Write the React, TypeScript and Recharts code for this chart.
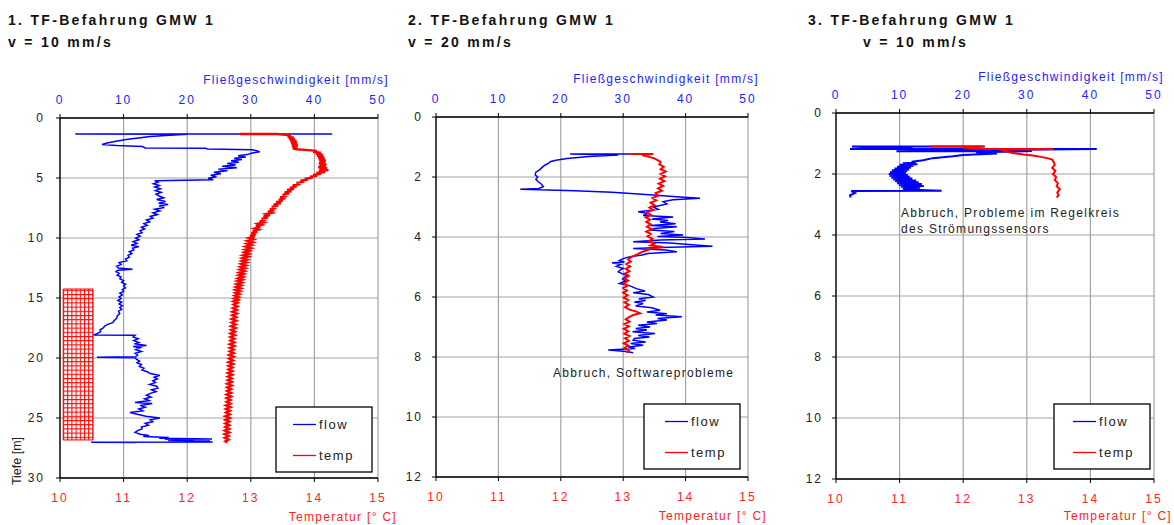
import React from "react";
import {
  ScatterChart,
  Scatter,
  XAxis,
  YAxis,
  CartesianGrid,
  ReferenceArea,
} from "recharts";

const FONT = '"Liberation Sans", Arial, sans-serif';
const BLUE = "#0000ff";
const RED = "#ff0000";

const flowTicks = [0, 10, 20, 30, 40, 50];
const tempTicks = [10, 11, 12, 13, 14, 15];
const depthTicksLong = [0, 5, 10, 15, 20, 25, 30];
const depthTicksShort = [0, 2, 4, 6, 8, 10, 12];

const titles = ["1. TF-Befahrung GMW 1", "2. TF-Befahrung GMW 1", "3. TF-Befahrung GMW 1"];
const speeds = ["v = 10 mm/s", "v = 20 mm/s", "v = 10 mm/s"];

// [depth m, flow mm/s]
const run1Flow = [
  [1.33, 42.8], [1.33, 2.4], [1.36, 20.0], [1.45, 16.6], [1.55, 14.2], [1.68, 12.0],
  [1.8, 10.4], [1.95, 8.6], [2.08, 7.4], [2.2, 6.6], [2.3, 8.9], [2.38, 13.0],
  [2.5, 13.4], [2.52, 22.9], [2.58, 23.2], [2.64, 30.3], [2.82, 31.4], [2.92, 30.2],
  [3.05, 29.4], [3.15, 28.0], [3.25, 29.2], [3.35, 27.4], [3.45, 28.6], [3.57, 26.9],
  [3.68, 28.1], [3.8, 26.3], [3.92, 27.6], [4.03, 25.5], [4.15, 27.8], [4.27, 24.9],
  [4.4, 26.3], [4.52, 24.2], [4.65, 25.3], [4.78, 23.7], [4.9, 24.6], [5.03, 23.3],
  [5.15, 24.1], [5.22, 14.9], [5.35, 15.4], [5.48, 14.7], [5.62, 15.6], [5.75, 14.9],
  [5.9, 15.8], [6.05, 15.0], [6.2, 15.9], [6.35, 15.1], [6.5, 15.6], [6.65, 16.3],
  [6.8, 15.2], [6.95, 16.6], [7.1, 15.5], [7.2, 17.0], [7.32, 15.6], [7.45, 16.4],
  [7.6, 14.9], [7.75, 15.7], [7.9, 14.6], [8.05, 15.3], [8.2, 14.2], [8.35, 14.6],
  [8.5, 13.6], [8.65, 14.1], [8.8, 13.2], [8.95, 13.7], [9.1, 12.8], [9.25, 13.3],
  [9.4, 12.6], [9.55, 12.9], [9.7, 12.1], [9.85, 12.6], [10.0, 11.9], [10.15, 12.4],
  [10.3, 11.5], [10.45, 12.1], [10.6, 11.2], [10.72, 12.4], [10.85, 11.4], [11.0, 11.6],
  [11.15, 10.9], [11.3, 11.3], [11.45, 10.7], [11.6, 10.9], [11.75, 10.3], [11.9, 10.5],
  [12.05, 9.3], [12.2, 9.6], [12.35, 8.9], [12.5, 9.2], [12.6, 11.4], [12.68, 9.1],
  [12.8, 8.8], [12.95, 9.3], [13.1, 9.0], [13.25, 9.6], [13.4, 9.4], [13.55, 10.0],
  [13.7, 9.7], [13.85, 10.3], [14.0, 10.0], [14.15, 10.3], [14.3, 9.8], [14.45, 10.0],
  [14.6, 9.4], [14.75, 9.8], [14.9, 9.3], [15.05, 9.6], [15.2, 9.1], [15.35, 9.7],
  [15.5, 9.3], [15.65, 9.8], [15.8, 9.4], [15.95, 9.7], [16.1, 9.2], [16.3, 9.4],
  [16.5, 9.0], [16.7, 8.9], [16.9, 8.5], [17.05, 8.3], [17.2, 7.5], [17.35, 7.0],
  [17.5, 6.8], [17.65, 6.3], [17.8, 6.4], [17.95, 5.9], [18.08, 5.3], [18.1, 11.8],
  [18.25, 11.5], [18.4, 12.3], [18.55, 11.6], [18.7, 12.4], [18.82, 11.7], [18.95, 13.6],
  [19.05, 11.5], [19.15, 12.6], [19.3, 11.9], [19.45, 12.8], [19.6, 11.8], [19.75, 12.2],
  [19.9, 11.9], [19.93, 5.8], [19.97, 11.8], [20.1, 12.0], [20.25, 12.5], [20.4, 12.1],
  [20.55, 12.8], [20.7, 12.5], [20.85, 13.2], [21.0, 12.9], [21.15, 13.7], [21.3, 14.2],
  [21.45, 15.7], [21.6, 14.8], [21.75, 15.3], [21.9, 14.6], [22.05, 15.0], [22.2, 14.1],
  [22.35, 15.2], [22.5, 15.4], [22.65, 14.4], [22.8, 15.1], [22.95, 14.2], [23.1, 13.6],
  [23.25, 14.3], [23.4, 13.3], [23.55, 14.0], [23.7, 11.8], [23.8, 14.5], [23.95, 12.6],
  [24.1, 13.4], [24.25, 12.4], [24.4, 13.0], [24.55, 11.0], [24.7, 12.3], [24.85, 13.5],
  [25.0, 15.7], [25.15, 14.2], [25.3, 14.6], [25.45, 13.4], [25.6, 13.9], [25.75, 12.8],
  [25.9, 12.9], [26.05, 12.2], [26.2, 11.8], [26.35, 12.6], [26.45, 14.0], [26.55, 13.1],
  [26.62, 17.1], [26.68, 15.6], [26.74, 23.9], [26.78, 16.5], [26.83, 21.0], [26.88, 17.0],
  [26.92, 23.6], [26.96, 18.5], [27.0, 24.0], [27.02, 4.9], [27.04, 12.0],
];

// [depth m, temperature °C]
const run1Temp = [
  [1.33, 12.83], [1.33, 13.41], [1.4, 13.55], [1.48, 13.63], [1.56, 13.58], [1.64, 13.68],
  [1.72, 13.6], [1.8, 13.7], [1.88, 13.62], [1.96, 13.72], [2.04, 13.63], [2.12, 13.73],
  [2.2, 13.64], [2.28, 13.74], [2.36, 13.65], [2.44, 13.73], [2.52, 13.66], [2.6, 13.72],
  [2.68, 13.9], [2.74, 14.04], [2.82, 13.98], [2.9, 14.1], [2.98, 14.02], [3.06, 14.13],
  [3.14, 14.04], [3.22, 14.15], [3.3, 14.06], [3.38, 14.16], [3.46, 14.07], [3.54, 14.18],
  [3.62, 14.08], [3.7, 14.17], [3.78, 14.07], [3.86, 14.19], [3.94, 14.08], [4.02, 14.18],
  [4.1, 14.06], [4.18, 14.2], [4.26, 14.08], [4.34, 14.22], [4.42, 14.07], [4.5, 14.17],
  [4.58, 14.03], [4.66, 14.1], [4.74, 13.98], [4.82, 14.04], [4.9, 13.93], [4.98, 13.97],
  [5.06, 13.85], [5.14, 13.9], [5.22, 13.78], [5.3, 13.84], [5.4, 13.72], [5.5, 13.78],
  [5.6, 13.66], [5.7, 13.72], [5.8, 13.62], [5.9, 13.68], [6.0, 13.57], [6.1, 13.64],
  [6.2, 13.53], [6.3, 13.6], [6.4, 13.5], [6.5, 13.57], [6.6, 13.46], [6.7, 13.54],
  [6.8, 13.44], [6.9, 13.5], [7.0, 13.4], [7.1, 13.47], [7.2, 13.36], [7.3, 13.43],
  [7.4, 13.33], [7.5, 13.4], [7.6, 13.3], [7.7, 13.37], [7.8, 13.27], [7.9, 13.33],
  [8.0, 13.24], [8.1, 13.3], [8.2, 13.2], [8.3, 13.27], [8.4, 13.17], [8.5, 13.24],
  [8.6, 13.14], [8.7, 13.2], [8.8, 13.11], [8.9, 13.17], [9.0, 13.08], [9.1, 13.15],
  [9.2, 13.06], [9.3, 13.12], [9.4, 13.03], [9.5, 13.1], [9.6, 13.01], [9.7, 13.08],
  [9.8, 12.99], [9.9, 13.06], [10.0, 12.97], [10.12, 13.04], [10.24, 12.95], [10.36, 13.03],
  [10.48, 12.94], [10.6, 13.01], [10.72, 12.92], [10.84, 13.0], [10.96, 12.91], [11.08, 12.98],
  [11.2, 12.9], [11.32, 12.97], [11.44, 12.88], [11.56, 12.96], [11.68, 12.87], [11.8, 12.94],
  [11.92, 12.86], [12.04, 12.93], [12.16, 12.85], [12.28, 12.92], [12.4, 12.84], [12.52, 12.91],
  [12.64, 12.83], [12.76, 12.9], [12.88, 12.82], [13.0, 12.89], [13.12, 12.81], [13.24, 12.88],
  [13.36, 12.8], [13.48, 12.87], [13.6, 12.79], [13.72, 12.86], [13.84, 12.78], [13.96, 12.85],
  [14.08, 12.77], [14.2, 12.84], [14.32, 12.76], [14.44, 12.83], [14.56, 12.76], [14.68, 12.82],
  [14.8, 12.75], [14.92, 12.81], [15.04, 12.74], [15.16, 12.8], [15.28, 12.73], [15.4, 12.79],
  [15.55, 12.73], [15.7, 12.79], [15.85, 12.72], [16.0, 12.78], [16.15, 12.71], [16.3, 12.78],
  [16.45, 12.71], [16.6, 12.77], [16.75, 12.7], [16.9, 12.77], [17.05, 12.7], [17.2, 12.76],
  [17.35, 12.69], [17.5, 12.76], [17.65, 12.69], [17.8, 12.75], [17.95, 12.68], [18.1, 12.75],
  [18.25, 12.68], [18.4, 12.74], [18.55, 12.68], [18.7, 12.74], [18.85, 12.67], [19.0, 12.74],
  [19.15, 12.67], [19.3, 12.73], [19.45, 12.67], [19.6, 12.73], [19.75, 12.66], [19.9, 12.73],
  [20.05, 12.66], [20.2, 12.72], [20.35, 12.65], [20.5, 12.72], [20.65, 12.65], [20.8, 12.71],
  [20.95, 12.65], [21.1, 12.71], [21.25, 12.64], [21.4, 12.71], [21.55, 12.64], [21.7, 12.7],
  [21.85, 12.64], [22.0, 12.7], [22.15, 12.63], [22.3, 12.7], [22.45, 12.63], [22.6, 12.69],
  [22.75, 12.63], [22.9, 12.69], [23.05, 12.62], [23.2, 12.69], [23.35, 12.62], [23.5, 12.68],
  [23.65, 12.62], [23.8, 12.68], [23.95, 12.61], [24.1, 12.68], [24.25, 12.61], [24.4, 12.67],
  [24.55, 12.61], [24.7, 12.67], [24.85, 12.6], [25.0, 12.67], [25.15, 12.6], [25.3, 12.66],
  [25.45, 12.6], [25.6, 12.66], [25.75, 12.6], [25.9, 12.66], [26.05, 12.59], [26.2, 12.66],
  [26.35, 12.59], [26.5, 12.65], [26.65, 12.59], [26.8, 12.65], [26.95, 12.6], [27.05, 12.63],
];

const run2Flow = [
  [1.23, 31.1], [1.23, 21.5], [1.25, 26.0], [1.27, 29.2], [1.32, 24.5], [1.38, 21.0],
  [1.44, 19.2], [1.49, 18.3], [1.55, 18.0], [1.6, 17.5], [1.68, 17.0], [1.76, 16.6],
  [1.84, 16.0], [1.93, 15.9], [2.0, 16.3], [2.08, 16.0], [2.16, 16.4], [2.24, 16.9],
  [2.32, 17.2], [2.38, 16.5], [2.41, 13.5], [2.46, 22.3], [2.51, 28.2], [2.6, 34.8],
  [2.66, 38.5], [2.71, 42.3], [2.76, 38.0], [2.82, 36.4], [2.9, 37.0], [3.0, 34.8],
  [3.08, 35.6], [3.16, 32.4], [3.22, 34.0], [3.28, 33.2], [3.33, 38.0], [3.4, 34.6],
  [3.45, 37.2], [3.5, 35.9], [3.56, 38.4], [3.62, 34.4], [3.66, 38.6], [3.72, 35.0],
  [3.77, 34.3], [3.82, 38.2], [3.88, 36.0], [3.93, 39.6], [3.98, 35.5], [4.02, 40.2],
  [4.07, 43.1], [4.1, 36.0], [4.16, 31.6], [4.2, 37.5], [4.25, 40.5], [4.31, 44.3],
  [4.35, 36.0], [4.38, 31.6], [4.43, 36.8], [4.49, 38.6], [4.55, 34.0], [4.6, 33.0],
  [4.66, 31.1], [4.72, 30.0], [4.78, 29.4], [4.83, 30.2], [4.86, 28.2], [4.92, 29.6],
  [4.98, 28.9], [5.05, 30.0], [5.1, 29.5], [5.16, 29.2], [5.22, 29.8], [5.28, 30.5],
  [5.33, 30.3], [5.4, 29.9], [5.46, 30.4], [5.55, 29.4], [5.62, 31.0], [5.72, 32.1],
  [5.8, 33.5], [5.86, 31.6], [5.92, 34.0], [6.0, 34.8], [6.06, 32.5], [6.12, 33.6],
  [6.17, 31.8], [6.22, 33.2], [6.3, 32.0], [6.36, 34.6], [6.44, 35.9], [6.5, 33.8],
  [6.56, 37.0], [6.6, 35.2], [6.66, 39.4], [6.72, 35.5], [6.77, 37.0], [6.83, 33.8],
  [6.88, 35.4], [6.94, 32.4], [7.0, 34.3], [7.05, 32.0], [7.1, 33.8], [7.16, 31.5],
  [7.22, 35.1], [7.28, 32.4], [7.33, 34.2], [7.38, 31.8], [7.44, 31.6], [7.5, 33.6],
  [7.55, 31.2], [7.61, 33.2], [7.67, 30.8], [7.72, 31.9], [7.77, 27.6], [7.82, 30.5],
  [7.86, 31.6],
];

const run2Temp = [
  [1.23, 13.11], [1.23, 13.48], [1.27, 13.3], [1.32, 13.4], [1.38, 13.5], [1.44, 13.55],
  [1.5, 13.6], [1.58, 13.58], [1.66, 13.65], [1.74, 13.6], [1.82, 13.68], [1.9, 13.6],
  [1.98, 13.67], [2.06, 13.59], [2.14, 13.66], [2.22, 13.57], [2.3, 13.64], [2.38, 13.56],
  [2.46, 13.62], [2.54, 13.52], [2.62, 13.56], [2.7, 13.47], [2.78, 13.53], [2.86, 13.44],
  [2.94, 13.5], [3.02, 13.42], [3.1, 13.48], [3.18, 13.38], [3.26, 13.44], [3.34, 13.36],
  [3.42, 13.43], [3.5, 13.37], [3.58, 13.44], [3.66, 13.38], [3.74, 13.46], [3.82, 13.37],
  [3.9, 13.44], [3.98, 13.39], [4.06, 13.47], [4.14, 13.41], [4.22, 13.5], [4.28, 13.44],
  [4.33, 13.64], [4.38, 13.46], [4.44, 13.38], [4.5, 13.3], [4.56, 13.24], [4.62, 13.18],
  [4.68, 13.12], [4.75, 13.08], [4.82, 13.12], [4.9, 13.05], [4.98, 13.11], [5.06, 13.04],
  [5.14, 13.1], [5.22, 13.03], [5.3, 13.09], [5.38, 13.02], [5.46, 13.08], [5.54, 13.01],
  [5.62, 13.07], [5.7, 13.0], [5.78, 13.06], [5.86, 13.0], [5.94, 13.07], [6.02, 13.01],
  [6.1, 13.08], [6.18, 13.02], [6.26, 13.09], [6.34, 13.03], [6.42, 13.1], [6.48, 13.2],
  [6.54, 13.27], [6.6, 13.16], [6.66, 13.1], [6.74, 13.04], [6.82, 13.1], [6.9, 13.02],
  [6.98, 13.09], [7.06, 13.01], [7.14, 13.08], [7.22, 13.02], [7.3, 13.1], [7.38, 13.03],
  [7.46, 13.09], [7.54, 13.01], [7.62, 13.08], [7.7, 13.02], [7.78, 13.09], [7.86, 13.05],
];

const run3Flow = [
  [1.1, 23.4], [1.1, 2.5], [1.14, 12.0], [1.18, 2.2], [1.18, 41.0], [1.22, 20.0],
  [1.25, 9.5], [1.25, 30.8], [1.29, 22.0], [1.33, 25.3], [1.38, 20.0], [1.42, 18.4],
  [1.48, 15.2], [1.55, 13.7], [1.6, 11.9], [1.63, 12.5], [1.65, 10.5], [1.68, 12.8],
  [1.7, 10.0], [1.73, 12.2], [1.76, 9.6], [1.79, 11.8], [1.82, 9.2], [1.85, 11.5],
  [1.88, 8.8], [1.91, 11.2], [1.94, 8.5], [1.97, 11.0], [2.0, 8.3], [2.03, 11.3],
  [2.06, 8.4], [2.09, 11.6], [2.12, 8.7], [2.15, 12.0], [2.18, 9.0], [2.21, 12.6],
  [2.24, 9.3], [2.27, 13.0], [2.3, 9.6], [2.33, 13.5], [2.36, 9.9], [2.39, 13.8],
  [2.42, 10.2], [2.45, 13.2], [2.48, 10.5], [2.52, 12.0], [2.55, 16.6], [2.56, 2.4],
  [2.62, 3.0], [2.7, 2.2], [2.77, 2.3],
];

const run3Temp = [
  [1.1, 11.48], [1.1, 12.31], [1.15, 12.0], [1.18, 12.2], [1.18, 13.41], [1.2, 12.58],
  [1.25, 12.65], [1.31, 12.78], [1.36, 12.95], [1.4, 13.12], [1.43, 13.2], [1.48, 13.32],
  [1.53, 13.4], [1.6, 13.42], [1.7, 13.44], [1.8, 13.4], [1.9, 13.45], [2.0, 13.41],
  [2.1, 13.46], [2.2, 13.44], [2.3, 13.49], [2.4, 13.47], [2.5, 13.52], [2.6, 13.48],
  [2.7, 13.5], [2.77, 13.47],
];

// hatched block in run 1: temperature range and depth range
const run1Hatch = { t1: 10.05, t2: 10.52, d1: 14.25, d2: 26.83 };

const toPoints = (arr: number[][]) => arr.map(([d, v]) => ({ d, v }));
const NoDot = () => <g />;

const tickStyle = { fontSize: 12, fontFamily: FONT, letterSpacing: 2 };

function Panel({ left, width, margin, yWidth, yTickMargin, maxDepth, depthTicks, flow, temp, hatch, flowWidth, tempWidth }: any) {
  return (
    <div style={{ position: "absolute", left, top: 0 }}>
      <ScatterChart width={width} height={525} margin={margin}>
        <CartesianGrid xAxisId="flow" yAxisId="depth" stroke="#a3a3a3" strokeWidth={1.2} />
        <XAxis
          xAxisId="flow"
          orientation="top"
          type="number"
          dataKey="v"
          domain={[0, 50]}
          ticks={flowTicks}
          interval={0}
          allowDataOverflow
          height={30}
          tickSize={4}
          tickMargin={10}
          axisLine={{ stroke: "#000", strokeWidth: 1.3 }}
          tickLine={{ stroke: "#000" }}
          tick={{ ...tickStyle, fill: "#2222ff" }}
        />
        <XAxis
          xAxisId="temp"
          orientation="bottom"
          type="number"
          dataKey="v"
          domain={[10, 15]}
          ticks={tempTicks}
          interval={0}
          allowDataOverflow
          height={30}
          tickSize={4}
          tickMargin={11}
          axisLine={{ stroke: "#000", strokeWidth: 1.3 }}
          tickLine={{ stroke: "#000" }}
          tick={{ ...tickStyle, fill: "#ff2222" }}
        />
        <YAxis
          yAxisId="depth"
          type="number"
          dataKey="d"
          domain={[0, maxDepth]}
          reversed
          ticks={depthTicks}
          interval={0}
          allowDataOverflow
          width={yWidth}
          tickSize={4}
          tickMargin={yTickMargin}
          axisLine={{ stroke: "#000", strokeWidth: 1.3 }}
          tickLine={{ stroke: "#000" }}
          tick={{ ...tickStyle, fill: "#222" }}
        />
        {hatch && (
          <ReferenceArea
            xAxisId="temp"
            yAxisId="depth"
            x1={hatch.t1}
            x2={hatch.t2}
            y1={hatch.d1}
            y2={hatch.d2}
            fill="url(#redHatch)"
            fillOpacity={1}
            stroke={RED}
            strokeWidth={1}
            ifOverflow="visible"
          />
        )}
        <Scatter
          xAxisId="flow"
          yAxisId="depth"
          data={toPoints(flow)}
          line={{ stroke: BLUE, strokeWidth: flowWidth }}
          shape={NoDot}
          isAnimationActive={false}
        />
        <Scatter
          xAxisId="temp"
          yAxisId="depth"
          data={toPoints(temp)}
          line={{ stroke: RED, strokeWidth: tempWidth }}
          shape={NoDot}
          isAnimationActive={false}
        />
      </ScatterChart>
    </div>
  );
}

function LegendBox({ x, y, lx }: { x: number; y: number; lx: number }) {
  return (
    <g>
      <rect x={x} y={y} width={96} height={65} fill="#fff" stroke="#000" strokeWidth={1.3} />
      <line x1={lx} x2={lx + 23} y1={y + 17.5} y2={y + 17.5} stroke={BLUE} strokeWidth={1.3} />
      <text x={lx + 26} y={y + 22} fontSize={13} letterSpacing={1.5} fill="#222">flow</text>
      <line x1={lx} x2={lx + 23} y1={y + 48.5} y2={y + 48.5} stroke={RED} strokeWidth={1.3} />
      <text x={lx + 26} y={y + 53} fontSize={13} letterSpacing={1.5} fill="#222">temp</text>
    </g>
  );
}

export default function App() {
  const titleX = [8, 408, 808];
  const speedX = [8, 408, 863];
  const topTitle = [{ x: 389, y: 84 }, { x: 759, y: 83 }, { x: 1164, y: 81 }];
  const bottomTitle = [{ x: 397, y: 521 }, { x: 767, y: 520 }, { x: 1172, y: 520 }];
  return (
    <div style={{ position: "absolute", left: 0, top: 0, width: 1174, height: 525, background: "#fff", fontFamily: FONT }}>
      <Panel
        left={0}
        width={400}
        margin={{ top: 88, right: 22, bottom: 17, left: 20 }}
        yWidth={40}
        yTickMargin={11}
        maxDepth={30}
        depthTicks={depthTicksLong}
        flow={run1Flow}
        temp={run1Temp}
        hatch={run1Hatch}
        flowWidth={1.5}
        tempWidth={2.4}
      />
      <Panel
        left={400}
        width={370}
        margin={{ top: 87, right: 22, bottom: 18, left: 6 }}
        yWidth={30}
        yTickMargin={9}
        maxDepth={12}
        depthTicks={depthTicksShort}
        flow={run2Flow}
        temp={run2Temp}
        flowWidth={1.5}
        tempWidth={2}
      />
      <Panel
        left={790}
        width={384}
        margin={{ top: 83, right: 20, bottom: 16, left: 16 }}
        yWidth={30}
        yTickMargin={9}
        maxDepth={12}
        depthTicks={depthTicksShort}
        flow={run3Flow}
        temp={run3Temp}
        flowWidth={2}
        tempWidth={2}
      />
      <svg
        width={1174}
        height={525}
        style={{ position: "absolute", left: 0, top: 0, pointerEvents: "none" }}
        fontFamily={FONT}
      >
        <defs>
          <pattern id="redHatch" width={4.2} height={4.2} patternUnits="userSpaceOnUse">
            <path d="M0.5 0 V4.2 M0 0.5 H4.2" stroke={RED} strokeWidth={1.1} />
          </pattern>
        </defs>
        {titles.map((t, i) => (
          <text key={t} x={titleX[i]} y={25} fontSize={14} fontWeight="bold" letterSpacing={2.3} fill="#111">
            {t}
          </text>
        ))}
        {speeds.map((t, i) => (
          <text key={i} x={speedX[i]} y={47} fontSize={14} fontWeight="bold" letterSpacing={2.3} fill="#111">
            {t}
          </text>
        ))}
        {topTitle.map((p, i) => (
          <text key={i} x={p.x} y={p.y} textAnchor="end" fontSize={12} letterSpacing={1.3} fill="#2222ff">
            Fließgeschwindigkeit [mm/s]
          </text>
        ))}
        {bottomTitle.map((p, i) => (
          <text key={i} x={p.x} y={p.y} textAnchor="end" fontSize={12} letterSpacing={1.3} fill="#ff2222">
            Temperatur [° C]
          </text>
        ))}
        <text
          x={17}
          y={461}
          transform="rotate(-90 17 461)"
          textAnchor="middle"
          dominantBaseline="central"
          fontSize={12.5}
          fill="#222"
        >
          Tiefe [m]
        </text>
        <text x={553} y={377} fontSize={12} letterSpacing={1.3} fill="#222">
          Abbruch, Softwareprobleme
        </text>
        <text x={901} y={217} fontSize={12} letterSpacing={1.3} fill="#222">
          Abbruch, Probleme im Regelkreis
        </text>
        <text x={901} y={233} fontSize={12} letterSpacing={1.3} fill="#222">
          des Strömungssensors
        </text>
        <LegendBox x={276} y={407} lx={293} />
        <LegendBox x={644} y={404} lx={665} />
        <LegendBox x={1054} y={404} lx={1073} />
      </svg>
    </div>
  );
}
